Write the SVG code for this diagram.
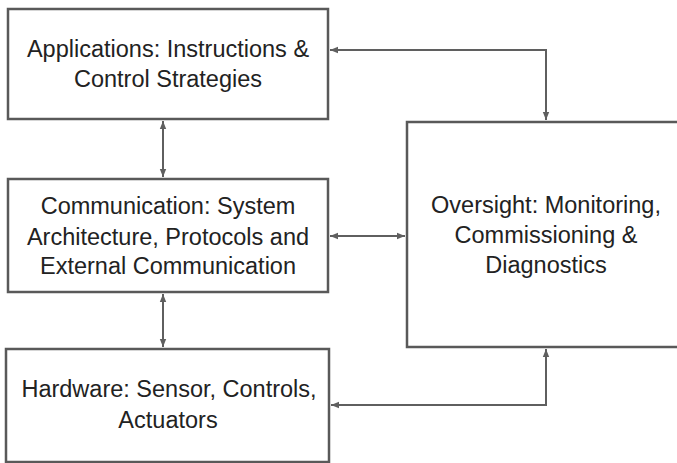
<svg xmlns="http://www.w3.org/2000/svg" width="677" height="463" viewBox="0 0 677 463">
<style>
.box{fill:#fff;stroke:#595959;stroke-width:2.5}
.c{fill:none;stroke:#5f5f5f;stroke-width:2}
text{font-family:"Liberation Sans",Arial,sans-serif;font-size:23.5px;fill:#222;text-anchor:middle}
</style>
<defs>
<marker id="a" viewBox="0 0 10 10" refX="10" refY="5" markerWidth="4" markerHeight="4" orient="auto-start-reverse" markerUnits="strokeWidth">
<path d="M0,1 L10,5 L0,9 z" fill="#5f5f5f"/>
</marker>
</defs>
<rect width="677" height="463" fill="#fff"/>
<g id="applications">
<rect class="box" x="8" y="9" width="320" height="110"/>
<text x="168" y="57">Applications: Instructions &amp;</text>
<text x="168" y="87">Control Strategies</text>
</g>
<g id="communication">
<rect class="box" x="8" y="179" width="320" height="113"/>
<text x="168" y="214">Communication: System</text>
<text x="168" y="245">Architecture, Protocols and</text>
<text x="168" y="274">External Communication</text>
</g>
<g id="hardware">
<rect class="box" x="6" y="349" width="323" height="113"/>
<text x="169" y="397">Hardware: Sensor, Controls,</text>
<text x="168" y="428">Actuators</text>
</g>
<g id="oversight">
<rect class="box" x="407" y="122" width="272" height="225"/>
<text x="546" y="213">Oversight: Monitoring,</text>
<text x="546" y="243">Commissioning &amp;</text>
<text x="546" y="273">Diagnostics</text>
</g>
<g id="connectors">
<path class="c" d="M163,121 V177" marker-start="url(#a)" marker-end="url(#a)"/>
<path class="c" d="M163,294 V347" marker-start="url(#a)" marker-end="url(#a)"/>
<path class="c" d="M330,236 H405" marker-start="url(#a)" marker-end="url(#a)"/>
<path class="c" d="M330,50 H546 V120" marker-start="url(#a)" marker-end="url(#a)"/>
<path class="c" d="M331,405 H546 V349" marker-start="url(#a)" marker-end="url(#a)"/>
</g>
</svg>
